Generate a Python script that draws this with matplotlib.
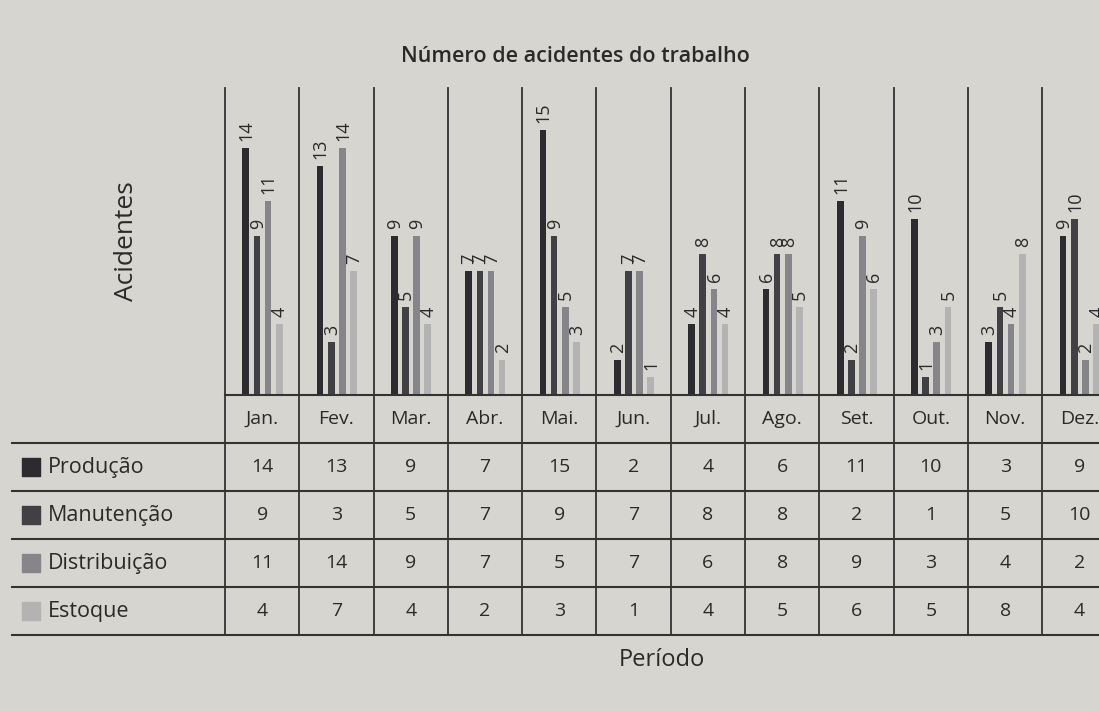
import matplotlib.pyplot as plt

plt.rcParams['font.family'] = ['Open Sans', 'DejaVu Sans']

meses = ['Jan.', 'Fev.', 'Mar.', 'Abr.', 'Mai.', 'Jun.', 'Jul.', 'Ago.', 'Set.', 'Out.', 'Nov.', 'Dez.']
series = ['Produção', 'Manutenção', 'Distribuição', 'Estoque']
producao = [14, 13, 9, 7, 15, 2, 4, 6, 11, 10, 3, 9]
manutencao = [9, 3, 5, 7, 9, 7, 8, 8, 2, 1, 5, 10]
distribuicao = [11, 14, 9, 7, 5, 7, 6, 8, 9, 3, 4, 2]
estoque = [4, 7, 4, 2, 3, 1, 4, 5, 6, 5, 8, 4]
valores = [producao, manutencao, distribuicao, estoque]
cores = ['#2b2b30', '#404045', '#86868a', '#b3b3b3']

bg = '#d7d5d0'
line_c = '#333333'
txt_c = '#2a2a2a'

fig = plt.figure(figsize=(10.99, 7.11), dpi=100, facecolor=bg)
W, H = 1099, 711
colw = 74.3
left = 225
axw = colw * 12

# area das barras
ax = fig.add_axes([left / W, (H - 395) / H, axw / W, (395 - 88) / H])
ax.set_facecolor('none')
ax.set_xlim(-0.5, 11.5)
ax.set_ylim(0, 17.4)
for s in ax.spines.values():
    s.set_visible(False)
ax.set_xticks([])
ax.set_yticks([])

offs = [-0.22, -0.07, 0.08, 0.23]
for k, vals in enumerate(valores):
    xs = [i + offs[k] for i in range(12)]
    ax.bar(xs, vals, width=0.09, color=cores[k])
    for x, v in zip(xs, vals):
        ax.text(x + 0.01, v + 0.4, str(v), rotation=90, ha='center', va='bottom',
                fontsize=13, color=txt_c)
for i in range(13):
    ax.plot([i - 0.5, i - 0.5], [0, 17.4], color=line_c, lw=1.3, clip_on=False)

ax.set_ylabel('Acidentes', fontsize=19, color=txt_c, labelpad=62)

# tabela
tb = fig.add_axes([left / W, (H - 635) / H, axw / W, 240 / H])
tb.set_facecolor('none')
tb.set_xlim(-0.5, 11.5)
tb.set_ylim(0, 5)
for s in tb.spines.values():
    s.set_visible(False)
tb.set_xticks([])
tb.set_yticks([])

x0 = -0.5 - (left - 12) / colw
tb.plot([-0.5, 11.5], [5, 5], color=line_c, lw=1.5, clip_on=False)
for y in [0, 1, 2, 3, 4]:
    tb.plot([x0, 11.5], [y, y], color=line_c, lw=1.5, clip_on=False)
for i in range(13):
    tb.plot([i - 0.5, i - 0.5], [0, 5], color=line_c, lw=1.3, clip_on=False)

for i, m in enumerate(meses):
    tb.text(i, 4.5, m, ha='center', va='center', fontsize=14, color=txt_c)

xs_sq = -0.5 - (left - 31) / colw
xs_tx = -0.5 - (left - 48) / colw
for k, (nome, vals) in enumerate(zip(series, valores)):
    y = 3.5 - k
    tb.scatter([xs_sq], [y], marker='s', s=150, color=cores[k], clip_on=False)
    tb.text(xs_tx, y, nome, ha='left', va='center', fontsize=15.5, color=txt_c)
    for i, v in enumerate(vals):
        tb.text(i, y, str(v), ha='center', va='center', fontsize=14, color=txt_c)

fig.text(575 / W, 1 - 57 / H, 'Número de acidentes do trabalho', ha='center', va='center',
         fontsize=15.5, fontweight='semibold', color=txt_c)
fig.text(662 / W, 1 - 660 / H, 'Período', ha='center', va='center', fontsize=17, color=txt_c)

fig.savefig('out.png', dpi=100, facecolor=bg)
